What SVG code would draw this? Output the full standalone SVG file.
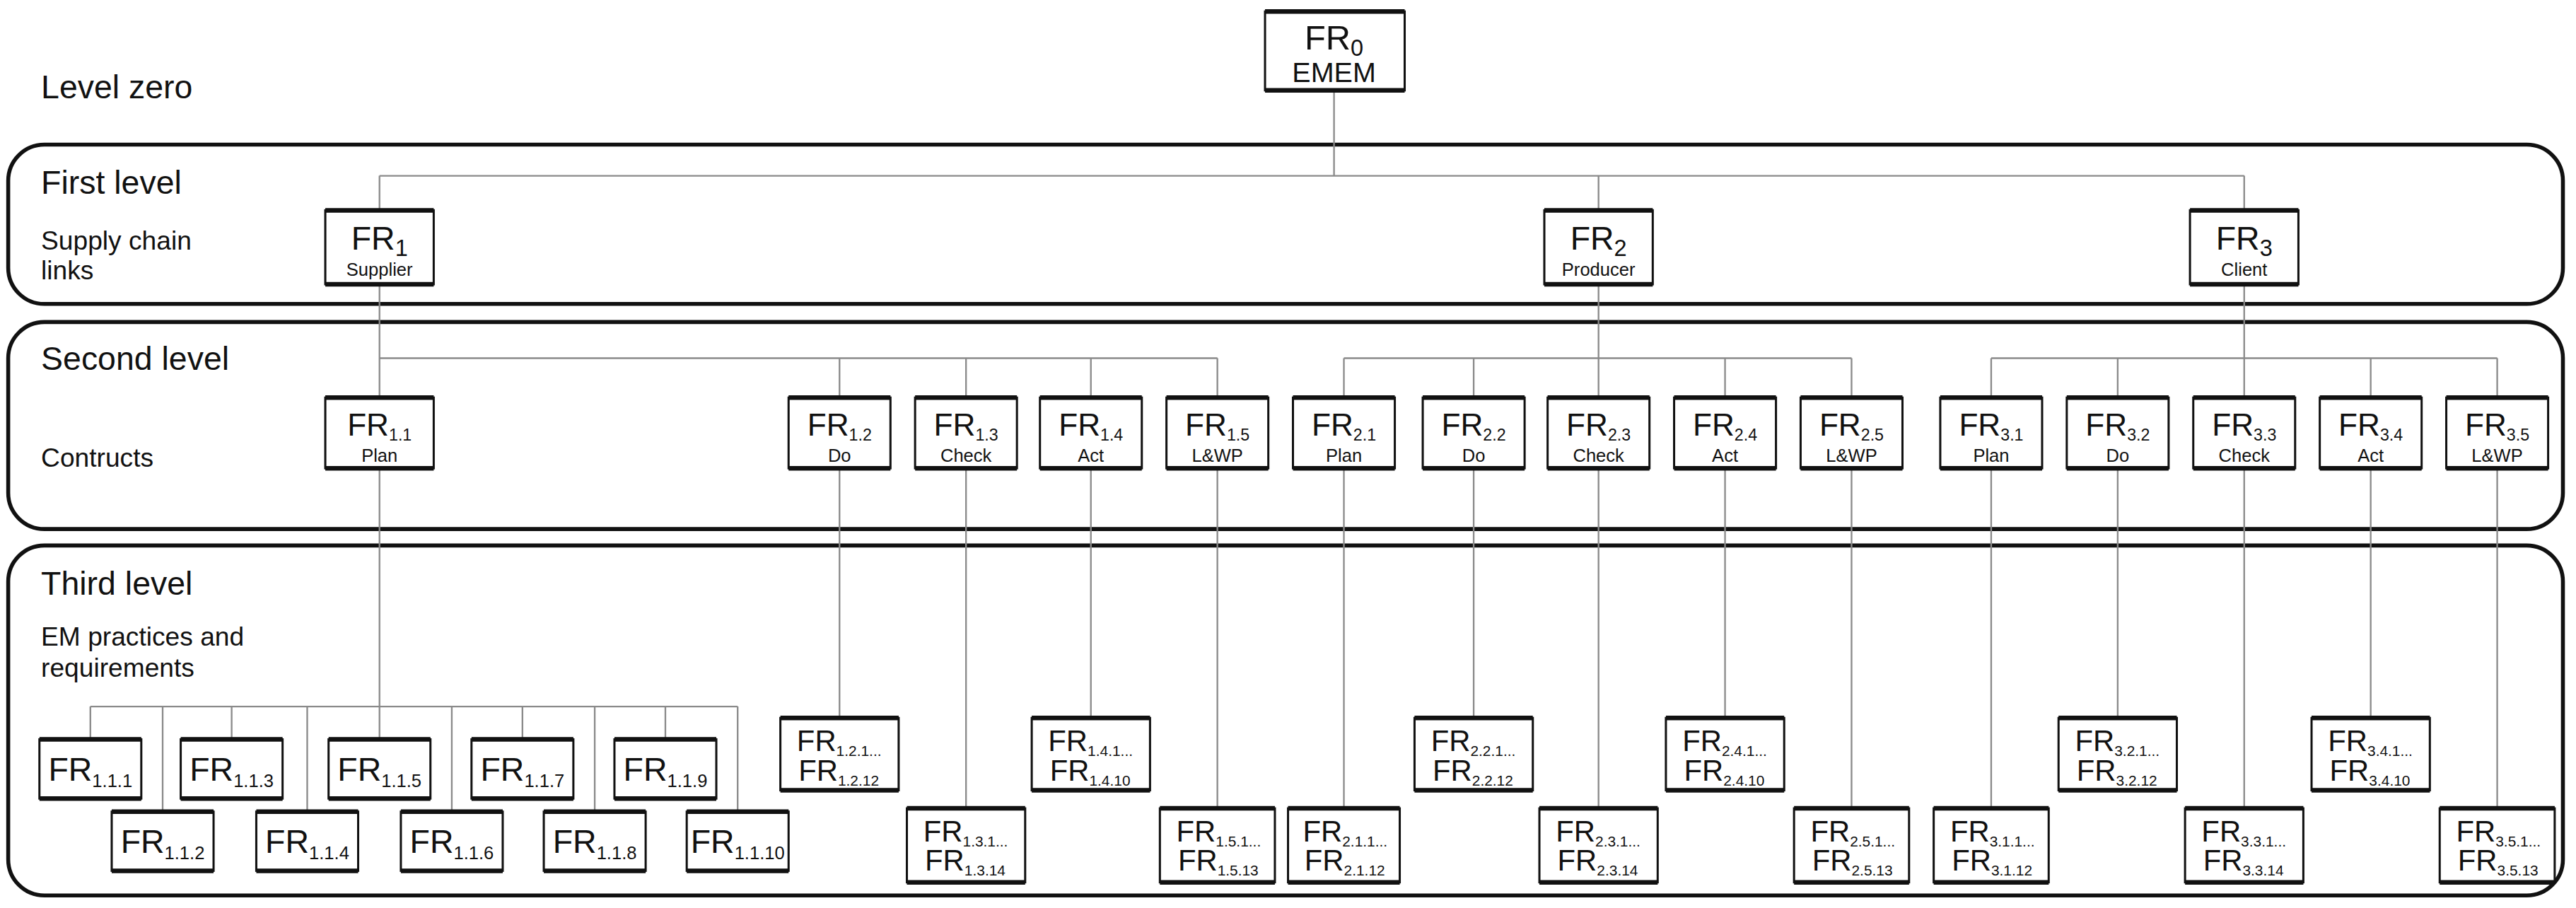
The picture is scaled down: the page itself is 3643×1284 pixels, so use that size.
<svg xmlns="http://www.w3.org/2000/svg" width="3643" height="1284" viewBox="0 0 3643 1284">
<style>
text{font-family:"Liberation Sans",Arial,sans-serif;fill:#111}
.b{fill:#fff;stroke:#111;stroke-width:1.3}
.tb{stroke:#111;stroke-width:2.8;fill:none}
.c{stroke:#8a8a8a;stroke-width:1;fill:none}
.p{fill:none;stroke:#111;stroke-width:2.4}
.m{text-anchor:middle}
.lv{font-size:20px}
.ls{font-size:16px}
</style>
<rect width="3643" height="1284" fill="#fff"/>
<g transform="scale(2.3234)">
<g id="panels">
<rect class="p" x="5" y="88" width="1555" height="97" rx="22"/>
<rect class="p" x="5" y="196" width="1555" height="126" rx="22"/>
<rect class="p" x="5" y="332" width="1555" height="213" rx="22"/>
</g>
<g id="labels">
<text class="lv" x="25" y="60">Level zero</text>
<text class="lv" x="25" y="118">First level</text>
<text class="ls" x="25" y="152">Supply chain</text>
<text class="ls" x="25" y="170">links</text>
<text class="lv" x="25" y="225">Second level</text>
<text class="ls" x="25" y="284">Contructs</text>
<text class="lv" x="25" y="362">Third level</text>
<text class="ls" x="25" y="393">EM practices and</text>
<text class="ls" x="25" y="412">requirements</text>
</g>
<g id="connectors" class="c">
<path d="M812 55V107M231 107H1366M231 107V128M973 107V128M1366 107V128"/>
<path d="M231 173V242M231 218H741M511 218V242M588 218V242M664 218V242M741 218V242"/>
<path d="M973 173V242M818 218H1127M818 218V242M897 218V242M1050 218V242M1127 218V242"/>
<path d="M1366 173V242M1212 218H1520M1212 218V242M1289 218V242M1443 218V242M1520 218V242"/>
<path d="M231 285V450M55 430H449M55 430V450M141 430V450M318 430V450M405 430V450M99 430V494M187 430V494M275 430V494M362 430V494M449 430V494"/>
<path d="M511 285V437M664 285V437M897 285V437M1050 285V437M1289 285V437M1443 285V437"/>
<path d="M588 285V492M741 285V492M818 285V492M973 285V492M1127 285V492M1212 285V492M1366 285V492M1520 285V492"/>
</g>
<g id="FR0"><rect class="b" x="770" y="7" width="85" height="48"/><path class="tb" d="M770 7h85M770 55h85"/><text class="m" x="812" y="30" font-size="21">FR<tspan font-size="14" dy="4">0</tspan></text><text class="m" x="812" y="50" font-size="17">EMEM</text></g>
<g id="FR1"><rect class="b" x="198" y="128" width="66" height="45"/><path class="tb" d="M198 128h66M198 173h66"/><text class="m" x="231" y="152" font-size="20">FR<tspan font-size="14" dy="4">1</tspan></text><text class="m" x="231" y="168" font-size="11">Supplier</text></g>
<g id="FR2"><rect class="b" x="940" y="128" width="66" height="45"/><path class="tb" d="M940 128h66M940 173h66"/><text class="m" x="973" y="152" font-size="20">FR<tspan font-size="14" dy="4">2</tspan></text><text class="m" x="973" y="168" font-size="11">Producer</text></g>
<g id="FR3"><rect class="b" x="1333" y="128" width="66" height="45"/><path class="tb" d="M1333 128h66M1333 173h66"/><text class="m" x="1366" y="152" font-size="20">FR<tspan font-size="14" dy="4">3</tspan></text><text class="m" x="1366" y="168" font-size="11">Client</text></g>
<g id="FR1.1"><rect class="b" x="198" y="242" width="66" height="43"/><path class="tb" d="M198 242h66M198 285h66"/><text class="m" x="231" y="265" font-size="19">FR<tspan font-size="10" dy="3">1.1</tspan></text><text class="m" x="231" y="281" font-size="11">Plan</text></g>
<g id="FR1.2"><rect class="b" x="480" y="242" width="62" height="43"/><path class="tb" d="M480 242h62M480 285h62"/><text class="m" x="511" y="265" font-size="19">FR<tspan font-size="10" dy="3">1.2</tspan></text><text class="m" x="511" y="281" font-size="11">Do</text></g>
<g id="FR1.3"><rect class="b" x="557" y="242" width="62" height="43"/><path class="tb" d="M557 242h62M557 285h62"/><text class="m" x="588" y="265" font-size="19">FR<tspan font-size="10" dy="3">1.3</tspan></text><text class="m" x="588" y="281" font-size="11">Check</text></g>
<g id="FR1.4"><rect class="b" x="633" y="242" width="62" height="43"/><path class="tb" d="M633 242h62M633 285h62"/><text class="m" x="664" y="265" font-size="19">FR<tspan font-size="10" dy="3">1.4</tspan></text><text class="m" x="664" y="281" font-size="11">Act</text></g>
<g id="FR1.5"><rect class="b" x="710" y="242" width="62" height="43"/><path class="tb" d="M710 242h62M710 285h62"/><text class="m" x="741" y="265" font-size="19">FR<tspan font-size="10" dy="3">1.5</tspan></text><text class="m" x="741" y="281" font-size="11">L&amp;WP</text></g>
<g id="FR2.1"><rect class="b" x="787" y="242" width="62" height="43"/><path class="tb" d="M787 242h62M787 285h62"/><text class="m" x="818" y="265" font-size="19">FR<tspan font-size="10" dy="3">2.1</tspan></text><text class="m" x="818" y="281" font-size="11">Plan</text></g>
<g id="FR2.2"><rect class="b" x="866" y="242" width="62" height="43"/><path class="tb" d="M866 242h62M866 285h62"/><text class="m" x="897" y="265" font-size="19">FR<tspan font-size="10" dy="3">2.2</tspan></text><text class="m" x="897" y="281" font-size="11">Do</text></g>
<g id="FR2.3"><rect class="b" x="942" y="242" width="62" height="43"/><path class="tb" d="M942 242h62M942 285h62"/><text class="m" x="973" y="265" font-size="19">FR<tspan font-size="10" dy="3">2.3</tspan></text><text class="m" x="973" y="281" font-size="11">Check</text></g>
<g id="FR2.4"><rect class="b" x="1019" y="242" width="62" height="43"/><path class="tb" d="M1019 242h62M1019 285h62"/><text class="m" x="1050" y="265" font-size="19">FR<tspan font-size="10" dy="3">2.4</tspan></text><text class="m" x="1050" y="281" font-size="11">Act</text></g>
<g id="FR2.5"><rect class="b" x="1096" y="242" width="62" height="43"/><path class="tb" d="M1096 242h62M1096 285h62"/><text class="m" x="1127" y="265" font-size="19">FR<tspan font-size="10" dy="3">2.5</tspan></text><text class="m" x="1127" y="281" font-size="11">L&amp;WP</text></g>
<g id="FR3.1"><rect class="b" x="1181" y="242" width="62" height="43"/><path class="tb" d="M1181 242h62M1181 285h62"/><text class="m" x="1212" y="265" font-size="19">FR<tspan font-size="10" dy="3">3.1</tspan></text><text class="m" x="1212" y="281" font-size="11">Plan</text></g>
<g id="FR3.2"><rect class="b" x="1258" y="242" width="62" height="43"/><path class="tb" d="M1258 242h62M1258 285h62"/><text class="m" x="1289" y="265" font-size="19">FR<tspan font-size="10" dy="3">3.2</tspan></text><text class="m" x="1289" y="281" font-size="11">Do</text></g>
<g id="FR3.3"><rect class="b" x="1335" y="242" width="62" height="43"/><path class="tb" d="M1335 242h62M1335 285h62"/><text class="m" x="1366" y="265" font-size="19">FR<tspan font-size="10" dy="3">3.3</tspan></text><text class="m" x="1366" y="281" font-size="11">Check</text></g>
<g id="FR3.4"><rect class="b" x="1412" y="242" width="62" height="43"/><path class="tb" d="M1412 242h62M1412 285h62"/><text class="m" x="1443" y="265" font-size="19">FR<tspan font-size="10" dy="3">3.4</tspan></text><text class="m" x="1443" y="281" font-size="11">Act</text></g>
<g id="FR3.5"><rect class="b" x="1489" y="242" width="62" height="43"/><path class="tb" d="M1489 242h62M1489 285h62"/><text class="m" x="1520" y="265" font-size="19">FR<tspan font-size="10" dy="3">3.5</tspan></text><text class="m" x="1520" y="281" font-size="11">L&amp;WP</text></g>
<g id="FR1.1.1"><rect class="b" x="24" y="450" width="62" height="36"/><path class="tb" d="M24 450h62M24 486h62"/><text class="m" x="55" y="475" font-size="20">FR<tspan font-size="11" dy="4">1.1.1</tspan></text></g>
<g id="FR1.1.3"><rect class="b" x="110" y="450" width="62" height="36"/><path class="tb" d="M110 450h62M110 486h62"/><text class="m" x="141" y="475" font-size="20">FR<tspan font-size="11" dy="4">1.1.3</tspan></text></g>
<g id="FR1.1.5"><rect class="b" x="200" y="450" width="62" height="36"/><path class="tb" d="M200 450h62M200 486h62"/><text class="m" x="231" y="475" font-size="20">FR<tspan font-size="11" dy="4">1.1.5</tspan></text></g>
<g id="FR1.1.7"><rect class="b" x="287" y="450" width="62" height="36"/><path class="tb" d="M287 450h62M287 486h62"/><text class="m" x="318" y="475" font-size="20">FR<tspan font-size="11" dy="4">1.1.7</tspan></text></g>
<g id="FR1.1.9"><rect class="b" x="374" y="450" width="62" height="36"/><path class="tb" d="M374 450h62M374 486h62"/><text class="m" x="405" y="475" font-size="20">FR<tspan font-size="11" dy="4">1.1.9</tspan></text></g>
<g id="FR1.1.2"><rect class="b" x="68" y="494" width="62" height="36"/><path class="tb" d="M68 494h62M68 530h62"/><text class="m" x="99" y="519" font-size="20">FR<tspan font-size="11" dy="4">1.1.2</tspan></text></g>
<g id="FR1.1.4"><rect class="b" x="156" y="494" width="62" height="36"/><path class="tb" d="M156 494h62M156 530h62"/><text class="m" x="187" y="519" font-size="20">FR<tspan font-size="11" dy="4">1.1.4</tspan></text></g>
<g id="FR1.1.6"><rect class="b" x="244" y="494" width="62" height="36"/><path class="tb" d="M244 494h62M244 530h62"/><text class="m" x="275" y="519" font-size="20">FR<tspan font-size="11" dy="4">1.1.6</tspan></text></g>
<g id="FR1.1.8"><rect class="b" x="331" y="494" width="62" height="36"/><path class="tb" d="M331 494h62M331 530h62"/><text class="m" x="362" y="519" font-size="20">FR<tspan font-size="11" dy="4">1.1.8</tspan></text></g>
<g id="FR1.1.10"><rect class="b" x="418" y="494" width="62" height="36"/><path class="tb" d="M418 494h62M418 530h62"/><text class="m" x="449" y="519" font-size="20">FR<tspan font-size="11" dy="4">1.1.10</tspan></text></g>
<g id="FR1.2.x"><rect class="b" x="475" y="437" width="72" height="44"/><path class="tb" d="M475 437h72M475 481h72"/><text x="485" y="457" font-size="18">FR<tspan font-size="9" dy="3">1.2.1...</tspan></text><text x="486" y="475" font-size="18">FR<tspan font-size="9" dy="3">1.2.12</tspan></text></g>
<g id="FR1.4.x"><rect class="b" x="628" y="437" width="72" height="44"/><path class="tb" d="M628 437h72M628 481h72"/><text x="638" y="457" font-size="18">FR<tspan font-size="9" dy="3">1.4.1...</tspan></text><text x="639" y="475" font-size="18">FR<tspan font-size="9" dy="3">1.4.10</tspan></text></g>
<g id="FR2.2.x"><rect class="b" x="861" y="437" width="72" height="44"/><path class="tb" d="M861 437h72M861 481h72"/><text x="871" y="457" font-size="18">FR<tspan font-size="9" dy="3">2.2.1...</tspan></text><text x="872" y="475" font-size="18">FR<tspan font-size="9" dy="3">2.2.12</tspan></text></g>
<g id="FR2.4.x"><rect class="b" x="1014" y="437" width="72" height="44"/><path class="tb" d="M1014 437h72M1014 481h72"/><text x="1024" y="457" font-size="18">FR<tspan font-size="9" dy="3">2.4.1...</tspan></text><text x="1025" y="475" font-size="18">FR<tspan font-size="9" dy="3">2.4.10</tspan></text></g>
<g id="FR3.2.x"><rect class="b" x="1253" y="437" width="72" height="44"/><path class="tb" d="M1253 437h72M1253 481h72"/><text x="1263" y="457" font-size="18">FR<tspan font-size="9" dy="3">3.2.1...</tspan></text><text x="1264" y="475" font-size="18">FR<tspan font-size="9" dy="3">3.2.12</tspan></text></g>
<g id="FR3.4.x"><rect class="b" x="1407" y="437" width="72" height="44"/><path class="tb" d="M1407 437h72M1407 481h72"/><text x="1417" y="457" font-size="18">FR<tspan font-size="9" dy="3">3.4.1...</tspan></text><text x="1418" y="475" font-size="18">FR<tspan font-size="9" dy="3">3.4.10</tspan></text></g>
<g id="FR1.3.x"><rect class="b" x="552" y="492" width="72" height="45"/><path class="tb" d="M552 492h72M552 537h72"/><text x="562" y="512" font-size="18">FR<tspan font-size="9" dy="3">1.3.1...</tspan></text><text x="563" y="530" font-size="18">FR<tspan font-size="9" dy="3">1.3.14</tspan></text></g>
<g id="FR1.5.x"><rect class="b" x="706" y="492" width="70" height="45"/><path class="tb" d="M706 492h70M706 537h70"/><text x="716" y="512" font-size="18">FR<tspan font-size="9" dy="3">1.5.1...</tspan></text><text x="717" y="530" font-size="18">FR<tspan font-size="9" dy="3">1.5.13</tspan></text></g>
<g id="FR2.1.x"><rect class="b" x="784" y="492" width="68" height="45"/><path class="tb" d="M784 492h68M784 537h68"/><text x="793" y="512" font-size="18">FR<tspan font-size="9" dy="3">2.1.1...</tspan></text><text x="794" y="530" font-size="18">FR<tspan font-size="9" dy="3">2.1.12</tspan></text></g>
<g id="FR2.3.x"><rect class="b" x="937" y="492" width="72" height="45"/><path class="tb" d="M937 492h72M937 537h72"/><text x="947" y="512" font-size="18">FR<tspan font-size="9" dy="3">2.3.1...</tspan></text><text x="948" y="530" font-size="18">FR<tspan font-size="9" dy="3">2.3.14</tspan></text></g>
<g id="FR2.5.x"><rect class="b" x="1092" y="492" width="70" height="45"/><path class="tb" d="M1092 492h70M1092 537h70"/><text x="1102" y="512" font-size="18">FR<tspan font-size="9" dy="3">2.5.1...</tspan></text><text x="1103" y="530" font-size="18">FR<tspan font-size="9" dy="3">2.5.13</tspan></text></g>
<g id="FR3.1.x"><rect class="b" x="1177" y="492" width="70" height="45"/><path class="tb" d="M1177 492h70M1177 537h70"/><text x="1187" y="512" font-size="18">FR<tspan font-size="9" dy="3">3.1.1...</tspan></text><text x="1188" y="530" font-size="18">FR<tspan font-size="9" dy="3">3.1.12</tspan></text></g>
<g id="FR3.3.x"><rect class="b" x="1330" y="492" width="72" height="45"/><path class="tb" d="M1330 492h72M1330 537h72"/><text x="1340" y="512" font-size="18">FR<tspan font-size="9" dy="3">3.3.1...</tspan></text><text x="1341" y="530" font-size="18">FR<tspan font-size="9" dy="3">3.3.14</tspan></text></g>
<g id="FR3.5.x"><rect class="b" x="1485" y="492" width="70" height="45"/><path class="tb" d="M1485 492h70M1485 537h70"/><text x="1495" y="512" font-size="18">FR<tspan font-size="9" dy="3">3.5.1...</tspan></text><text x="1496" y="530" font-size="18">FR<tspan font-size="9" dy="3">3.5.13</tspan></text></g>
</g>
</svg>
